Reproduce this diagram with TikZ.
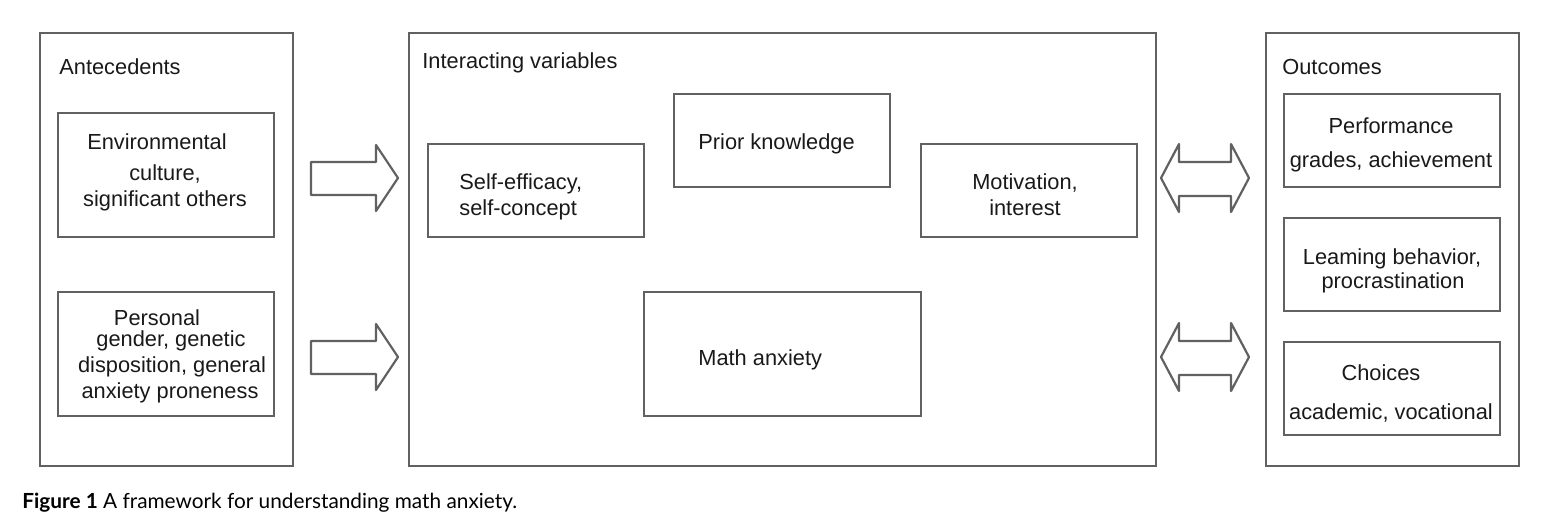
\documentclass[tikz,border=0pt]{standalone}
\usepackage{fontspec}
\setmainfont{Liberation Sans}
\newfontfamily\capfont{Lato}
\begin{document}
\begin{tikzpicture}[x=0.5pt,y=-0.5pt,
  frame/.style={draw=black!62,line width=1.1pt},
  txt/.style={anchor=base,inner sep=0pt,font=\fontsize{10.9}{13}\selectfont,text=black!90},
  ltxt/.style={txt,anchor=base west},
  arr/.style={draw=black!62,line width=1.1pt,line join=round,fill=white}]
\useasboundingbox (0,0) rectangle (1548,526);
% outer panels
\draw[frame] (40,33) rectangle (293,466);
\draw[frame] (409,33) rectangle (1156,466);
\draw[frame] (1266,33) rectangle (1519,466);
\node[ltxt] (antl) at (59,74) {Antecedents};
\node[ltxt] (intl) at (422,68) {Interacting variables};
\node[ltxt] (outl) at (1282,74) {Outcomes};
% antecedent boxes
\draw[frame] (58,113) rectangle (274,237);
\node[txt] (env1) at (157,149) {Environmental};
\node[txt] (env2) at (165,180) {culture,};
\node[txt] (env3) at (165,206) {significant others};
\draw[frame] (58,292) rectangle (274,416);
\node[txt] (per1) at (157,325) {Personal};
\node[txt] (per2) at (171,346) {gender, genetic};
\node[txt] (per3) at (172,372) {disposition, general};
\node[txt] (per4) at (170,398) {anxiety proneness};
% interacting boxes
\draw[frame] (428,144) rectangle (644,237);
\node[ltxt] (se1) at (459,189) {Self-efficacy,};
\node[ltxt] (se2) at (459,215) {self-concept};
\draw[frame] (674,94) rectangle (890,187);
\node[ltxt] (pk) at (698,149) {Prior knowledge};
\draw[frame] (921,144) rectangle (1137,237);
\node[txt] (mo1) at (1025,189) {Motivation,};
\node[txt] (mo2) at (1025,215) {interest};
\draw[frame] (644,292) rectangle (921,416);
\node[ltxt] (ma) at (698,365) {Math anxiety};
% outcome boxes
\draw[frame] (1284,94) rectangle (1500,187);
\node[txt] (pf1) at (1391,133) {Performance};
\node[txt] (pf2) at (1391,167) {grades, achievement};
\draw[frame] (1284,218) rectangle (1500,311);
\node[txt] (lb1) at (1392,264) {Leaming behavior,};
\node[txt] (lb2) at (1393,288) {procrastination};
\draw[frame] (1284,342) rectangle (1500,435);
\node[txt] (ch1) at (1381,380) {Choices};
\node[txt] (ch2) at (1391,419) {academic, vocational};
% single arrows
\draw[arr] (311,162) -- (376,162) -- (376,145) -- (398,178) -- (376,211) -- (376,195) -- (311,195) -- cycle;
\draw[arr] (311,341) -- (376,341) -- (376,324) -- (398,357) -- (376,390) -- (376,374) -- (311,374) -- cycle;
% double arrows
\draw[arr] (1161,178) -- (1179,144) -- (1179,162) -- (1231,162) -- (1231,144) -- (1249,178) -- (1231,212) -- (1231,196) -- (1179,196) -- (1179,212) -- cycle;
\draw[arr] (1161,357) -- (1179,323) -- (1179,341) -- (1231,341) -- (1231,323) -- (1249,357) -- (1231,391) -- (1231,375) -- (1179,375) -- (1179,391) -- cycle;
% caption
\node[anchor=base west,inner sep=0pt,font=\capfont\fontsize{10.4}{12}\selectfont] (cap) at (22,508) {\textbf{Figure 1} A framework for understanding math anxiety.};
\end{tikzpicture}
\end{document}
